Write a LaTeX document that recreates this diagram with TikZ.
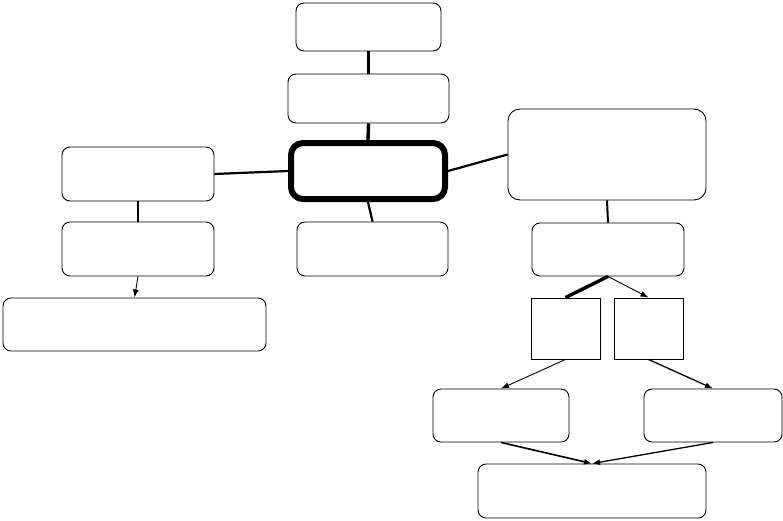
\documentclass[tikz,border=0pt]{standalone}
\usepackage{tikz}
\usetikzlibrary{arrows.meta}

\tikzset{
  box/.style={draw, rounded corners=8pt, line width=0.9pt, inner sep=0pt},
  sbox/.style={draw, line width=0.9pt, inner sep=0pt},
  thin link/.style={line width=0.9pt},
  bold link/.style={line width=3.4pt},
  tip/.style={-{Latex[length=8pt, width=6pt]}}
}

\begin{document}
\begin{tikzpicture}[x=1pt, y=-1pt]
      \useasboundingbox (0,0) rectangle (783,520);
      % boxes
      \node[box, minimum width=145, minimum height=48] (top) at (368.5,27) {};
      \node[box, minimum width=161, minimum height=49] (upper) at (368.5,98.5) {};
      \node[box, rounded corners=12pt, line width=6pt, minimum width=154, minimum height=56] (hub) at (368,171) {};
      \node[box, minimum width=151, minimum height=54] (below) at (372.5,249) {};
      \node[box, minimum width=152, minimum height=54] (left) at (138,174) {};
      \node[box, minimum width=152, minimum height=54] (leftdown) at (138,249) {};
      \node[box, minimum width=263, minimum height=53] (wide) at (134.5,324.5) {};
      \node[box, rounded corners=12pt, minimum width=198, minimum height=91] (right) at (607,154.5) {};
      \node[box, minimum width=152, minimum height=53] (rightdown) at (608,249.5) {};
      \node[sbox, minimum width=69, minimum height=61] (sa) at (565.5,328.5) {};
      \node[sbox, minimum width=69, minimum height=61] (sb) at (648.5,328.5) {};
      \node[box, minimum width=136, minimum height=53] (da) at (501,415.5) {};
      \node[box, minimum width=138, minimum height=53] (db) at (713,415.5) {};
      \node[box, minimum width=228, minimum height=54] (bottom) at (592,491) {};
      % links
      \draw[bold link] (top.south) -- (upper.north);
      \draw[bold link] (upper.south) -- (hub.north);
      \draw[line width=2.2pt] (hub.south) -- (below.north);
      \draw[line width=2.2pt] (left.east) -- (hub.west);
      \draw[line width=2.2pt] (hub.east) -- (right.west);
      \draw[line width=2pt] (left.south) -- (leftdown.north);
      \draw[thin link, tip] (leftdown.south) -- (wide.north);
      \draw[line width=2pt] (right.south) -- (rightdown.north);
      \draw[bold link] (rightdown.south) -- (sa.north);
      \draw[thin link, tip] (rightdown.south) -- (sb.north);
      \draw[thin link, tip] (sa.south) -- (da.north);
      \draw[line width=1.3pt, tip] (sb.south) -- (db.north);
      \draw[line width=1.6pt, tip] (da.south) -- (bottom.north);
      \draw[line width=1.3pt, tip] (db.south) -- (bottom.north);
\end{tikzpicture}
\end{document}
